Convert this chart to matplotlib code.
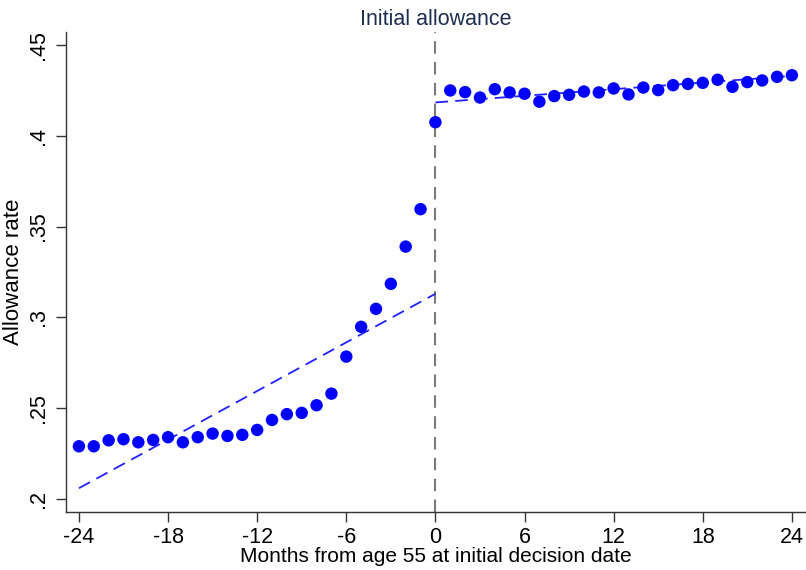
import matplotlib
matplotlib.use("Agg")
import matplotlib.pyplot as plt
import numpy as np

plt.rcParams['font.family'] = ['Liberation Sans', 'DejaVu Sans']

months = list(range(-24, 25))
rates = [0.2290, 0.2290, 0.2323, 0.2329, 0.2312, 0.2325, 0.2340, 0.2312, 0.2340, 0.2360,
         0.2347, 0.2353, 0.2380, 0.2435, 0.2467, 0.2474, 0.2516, 0.2580, 0.2784, 0.2948,
         0.3047, 0.3185, 0.3390, 0.3596, 0.4075,
         0.4250, 0.4241, 0.4211, 0.4257, 0.4239, 0.4232, 0.4188, 0.4219, 0.4226, 0.4244,
         0.4239, 0.4261, 0.4228, 0.4266, 0.4252, 0.4279, 0.4286, 0.4292, 0.4309, 0.4270,
         0.4296, 0.4305, 0.4325, 0.4334]

fit_left_x = [-24, 0]
fit_left_y = [0.2059, 0.3130]
fit_right_x = [0, 24]
fit_right_y = [0.4184, 0.4330]

xticks = [-24, -18, -12, -6, 0, 6, 12, 18, 24]
yticks = [0.2, 0.25, 0.3, 0.35, 0.4, 0.45]
ytick_labels = ['.2', '.25', '.3', '.35', '.4', '.45']

fig = plt.figure(figsize=(8.06, 5.70), dpi=100)
ax = fig.add_axes([66/806, 1 - 512/570, (806 - 66)/806, (512 - 32)/570])

ax.axvline(0, color='#7a7a7a', lw=1.5, dashes=(6, 4), zorder=1)
ax.plot(fit_left_x, fit_left_y, color='#2020ff', lw=1.3, dashes=(7, 4), zorder=2)
ax.plot(fit_right_x, fit_right_y, color='#2020ff', lw=1.3, dashes=(7, 4), zorder=2)
ax.scatter(months, rates, s=80, color='#0000ff', edgecolors='none', zorder=3)

ax.set_xlim(-24.87, 24.95)
ax.set_ylim(0.1928, 0.4572)
ax.set_xticks(xticks)
ax.set_xticklabels([str(t) for t in xticks])
ax.set_yticks(yticks)
ax.set_yticklabels(ytick_labels, rotation=90, va='center')

for s in ['top', 'right']:
    ax.spines[s].set_visible(False)
for s in ['left', 'bottom']:
    ax.spines[s].set_linewidth(1.0)
    ax.spines[s].set_color('#333333')
ax.tick_params(axis='both', direction='out', length=7, width=1.0, color='#333333',
               labelsize=15.5, colors='black')
ax.tick_params(axis='x', pad=4)
ax.tick_params(axis='y', pad=5)

ax.set_xlabel('Months from age 55 at initial decision date', fontsize=15, labelpad=-1)
ax.set_ylabel('Allowance rate', fontsize=16, labelpad=3)
ax.set_title('Initial allowance', fontsize=15.5, color='#1e2d50', pad=5)

fig.savefig('out.png', dpi=100)
